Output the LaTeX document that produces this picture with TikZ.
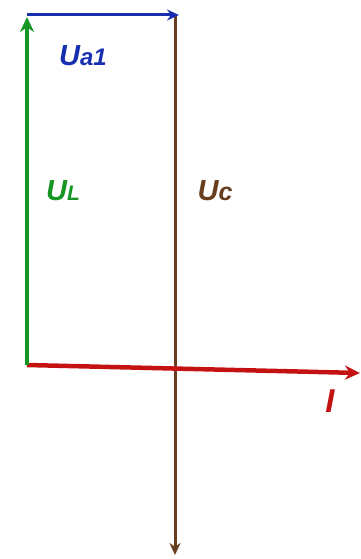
\documentclass[tikz,border=0pt]{standalone}
\usepackage{fontspec}
\setmainfont{Liberation Sans}
\usepackage{xcolor}
\usetikzlibrary{arrows.meta,positioning}

\definecolor{ulgreen}{RGB}{22,150,34}
\definecolor{uablue}{RGB}{24,48,176}
\definecolor{ucbrown}{RGB}{104,62,30}
\definecolor{ired}{RGB}{196,18,18}

\begin{document}
\begin{tikzpicture}[
    x=1pt, y=-1pt,
    font=\bfseries\itshape\fontsize{29}{31}\selectfont,
    vec/.style={-{Stealth[length=12pt,width=11pt]}},
    bigvec/.style={-{Stealth[length=15pt,width=14pt]}},
    lbl/.style={inner sep=0pt, anchor=center}
]
    \useasboundingbox (0,0) rectangle (360,559);

    \coordinate (o) at (27,365);
    \coordinate (ltop) at (27,17);
    \coordinate (btop) at (27,15);
    \coordinate (ctop) at (179,15);
    \coordinate (cbot) at (175,555);
    \coordinate (iend) at (360,373);

    \draw[vec, ucbrown, line width=3pt] (175,15) -- (cbot);
    \draw[bigvec, ired, line width=4.5pt] (o) -- (iend);
    \draw[bigvec, ulgreen, line width=4pt] (o) -- (ltop);
    \draw[vec, uablue, line width=3pt] (btop) -- (ctop);

    \node[lbl, text=uablue] (ua) at (83,56) {U{\fontsize{24}{26}\selectfont a1}};
    \node[lbl, text=ulgreen] (ul) at (63,191) {U{\fontsize{21}{23}\selectfont L}};
    \node[lbl, text=ucbrown] (uc) at (215,191) {U{\fontsize{25}{27}\selectfont c}};
    \node[lbl, text=ired] (i) at (330,401) {\fontsize{33}{35}\selectfont I};

\end{tikzpicture}
\end{document}
